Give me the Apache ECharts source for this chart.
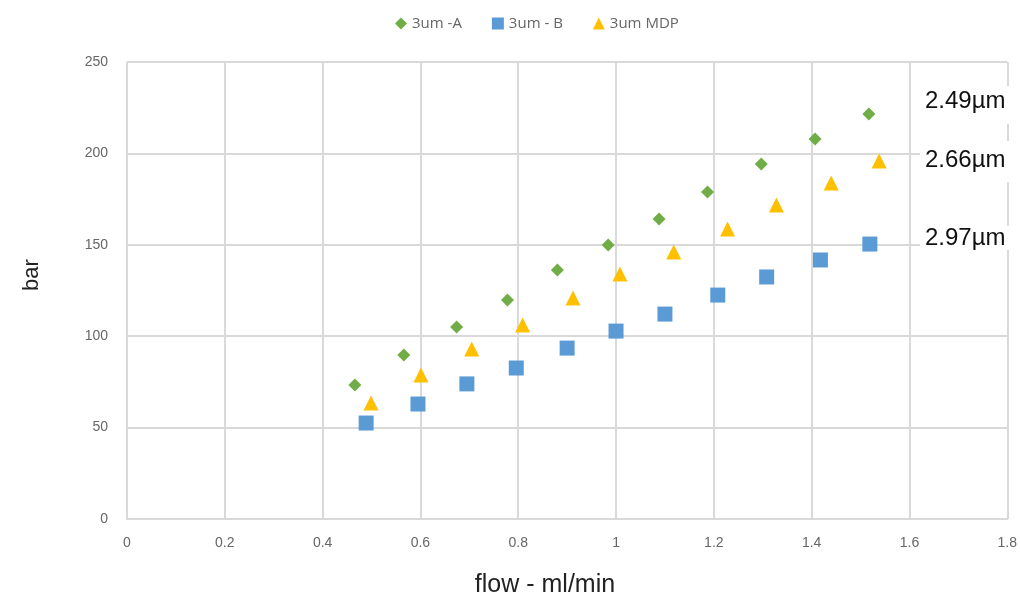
<!DOCTYPE html>
<html>
<head>
<meta charset="utf-8">
<script src="https://cdn.jsdelivr.net/npm/echarts@6/dist/echarts.min.js"></script>
<style>html,body{margin:0;padding:0;background:#fff}#c{width:1020px;height:596px}</style>
</head>
<body>
<div id="c"></div>
<script>
const seriesNames = ['3um -A', '3um - B', '3um MDP'];
const flowA = [0.466, 0.566, 0.674, 0.778, 0.880, 0.984, 1.088, 1.187, 1.297, 1.407, 1.517];
const barA  = [73.3, 89.7, 105, 119.8, 136.2, 149.9, 164.1, 178.9, 194.2, 207.9, 221.6];
const flowB = [0.489, 0.595, 0.695, 0.796, 0.900, 1.0, 1.100, 1.208, 1.308, 1.418, 1.519];
const barB  = [52.5, 62.9, 73.9, 82.6, 93.5, 102.8, 112.1, 122.5, 132.4, 141.7, 150.4];
const flowM = [0.499, 0.601, 0.705, 0.809, 0.912, 1.008, 1.118, 1.228, 1.328, 1.440, 1.538];
const barM  = [63.5, 78.8, 93, 106.1, 120.9, 134, 146, 158.6, 171.8, 183.8, 195.8];
const annotations = ['2.49µm', '2.66µm', '2.97µm'];
const xTitle = 'flow - ml/min';
const yTitle = 'bar';

const pair = (xs, ys) => xs.map((x, i) => [x, ys[i]]);
const chart = echarts.init(document.getElementById('c'), null, {renderer: 'canvas'});
const gridColor = '#d9d9d9';
const tickFont = {color: '#666', fontSize: 14, fontFamily: '"Liberation Sans Narrow", "Liberation Sans", Arial, sans-serif'};
const annFont = '24px "Liberation Sans", Arial, sans-serif';

chart.setOption({
  animation: false,
  backgroundColor: '#fff',
  legend: {
    top: 11, left: 390,
    itemWidth: 12, itemHeight: 12, itemGap: 30,
    textStyle: {color: '#666', fontSize: 15, fontFamily: 'Open Sans, sans-serif'},
    data: seriesNames
  },
  grid: {left: 127, right: 5, top: 62, bottom: 77, containLabel: false},
  xAxis: {
    type: 'value', min: 0, max: 1.8, interval: 0.2,
    axisLine: {show: true, lineStyle: {color: gridColor, width: 2}},
    axisTick: {show: false},
    splitLine: {show: true, lineStyle: {color: gridColor, width: 2}},
    axisLabel: Object.assign({margin: 17, formatter: v => String(+v.toFixed(1))}, tickFont)
  },
  yAxis: {
    type: 'value', min: 0, max: 250, interval: 50,
    axisLine: {show: false},
    axisTick: {show: false},
    splitLine: {show: true, lineStyle: {color: gridColor, width: 2}},
    axisLabel: Object.assign({margin: 19}, tickFont)
  },
  series: [
    {name: seriesNames[0], type: 'scatter', symbol: 'diamond', symbolSize: 13,
     itemStyle: {color: '#70ad47', opacity: 1}, data: pair(flowA, barA)},
    {name: seriesNames[1], type: 'scatter', symbol: 'rect', symbolSize: 15,
     itemStyle: {color: '#5b9bd5', opacity: 1}, data: pair(flowB, barB)},
    {name: seriesNames[2], type: 'scatter', symbol: 'triangle', symbolSize: 15,
     itemStyle: {color: '#ffc000', opacity: 1}, data: pair(flowM, barM)}
  ],
  graphic: [
    {type: 'text', x: 545, y: 585, z: 10,
     style: {text: xTitle, fill: '#222', font: '25px "Liberation Sans", Arial, sans-serif', textAlign: 'center', textVerticalAlign: 'middle'}},
    {type: 'text', x: 32, y: 275, rotation: Math.PI / 2, z: 10,
     style: {text: yTitle, fill: '#222', font: '22px "Liberation Sans", Arial, sans-serif', textAlign: 'center', textVerticalAlign: 'middle'}},
    {type: 'rect', shape: {x: 920, y: 86, width: 100, height: 38}, style: {fill: '#fff'}, z: 5},
    {type: 'rect', shape: {x: 920, y: 141, width: 100, height: 41}, style: {fill: '#fff'}, z: 5},
    {type: 'rect', shape: {x: 920, y: 226, width: 100, height: 24}, style: {fill: '#fff'}, z: 5},
    {type: 'text', x: 925, y: 101, z: 10,
     style: {text: annotations[0], fill: '#111', font: annFont, textVerticalAlign: 'middle'}},
    {type: 'text', x: 925, y: 160, z: 10,
     style: {text: annotations[1], fill: '#111', font: annFont, textVerticalAlign: 'middle'}},
    {type: 'text', x: 925, y: 238, z: 10,
     style: {text: annotations[2], fill: '#111', font: annFont, textVerticalAlign: 'middle'}}
  ]
});
</script>
</body>
</html>
